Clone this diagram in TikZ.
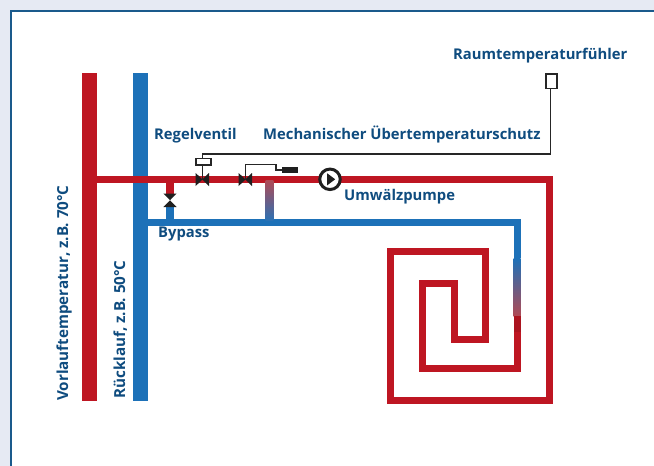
\documentclass[tikz,border=0pt]{standalone}
\usepackage{fontspec}
\setmainfont{Open Sans}
\definecolor{bgblue}{HTML}{E6EAF3}
\definecolor{framecol}{HTML}{1A5A8C}
\definecolor{pipered}{HTML}{BE1622}
\definecolor{pipeblue}{HTML}{1D71B8}
\definecolor{labelcol}{HTML}{0F4C7F}
\definecolor{ctrl}{HTML}{262626}
\definecolor{midmix}{HTML}{84709A}
\definecolor{lowmix}{HTML}{B04A55}
\tikzset{
  redpipe/.style={draw=pipered,line width=7pt,miter limit=10},
  bluepipe/.style={draw=pipeblue,line width=7pt},
  ctrlline/.style={draw=ctrl,line width=1.4pt},
  lab/.style={text=labelcol,font=\fontsize{14.8}{16}\selectfont\bfseries,inner sep=0pt},
  vlab/.style={text=labelcol,font=\fontsize{15.2}{16}\selectfont\bfseries,inner sep=0pt},
  valvetri/.style={fill=black!88,draw=none},
  smallbox/.style={draw=ctrl,line width=1.6pt,fill=white,inner sep=0pt}
}
\begin{document}
\begin{tikzpicture}[x=1pt,y=-1pt]
\useasboundingbox (0,0) rectangle (654,466);
\fill[bgblue] (0,0) rectangle (654,466);
\fill[white] (11,11) rectangle (654,466);
\draw[framecol,line width=2pt] (11,466) -- (11,11) -- (654,11);
% supply and return bars
\fill[pipered] (82,73) rectangle (97,401);
\fill[pipeblue] (133,73) rectangle (148,401);
% blue return run
\draw[bluepipe] (148,222.5) -- (517.2,222.5) -- (517.2,258);
\fill[pipeblue] (166,207) rectangle (174,219);
% red supply run and floor coil
\draw[redpipe] (97,179.5) -- (549.5,179.5) -- (549.5,400.5) -- (390.2,400.5) -- (390.2,251.5) -- (485.2,251.5) -- (485.2,339.5) -- (454.5,339.5) -- (454.5,283.5) -- (422.5,283.5) -- (422.5,368.5) -- (517.2,368.5) -- (517.2,316);
\fill[pipered] (166,183) rectangle (174,193.5);
% gradients
\shade[top color=pipeblue,middle color=midmix,bottom color=lowmix] (513.7,258) rectangle (520.7,316);
\fill[pipered!90!black] (513.7,316) rectangle (520.7,332);
\shade[top color=lowmix,bottom color=pipeblue!85!midmix] (265.7,180) rectangle (273.3,220);
% valve 1
\coordinate (v1) at (202.3,179.5);
\fill[valvetri] (195.7,173) -- (209,186) -- (209,173) -- (195.7,186) -- cycle;
% valve 2
\coordinate (v2) at (245.3,179.5);
\fill[valvetri] (238.7,173) -- (252,186) -- (252,173) -- (238.7,186) -- cycle;
% bypass valve
\fill[valvetri] (163.3,193.5) -- (176.7,193.5) -- (163.3,207) -- (176.7,207) -- cycle;
% control lines
\node[smallbox,minimum width=15pt,minimum height=6.6pt] (actuator) at (203.2,161.7) {};
\node[smallbox,minimum width=11pt,minimum height=14.6pt] (sensor) at (551.2,81) {};
\coordinate (sc) at (550.3,154);
\coordinate (ac) at (202.3,154);
\draw[ctrlline] (sensor.south -| sc) -- (sc) -- (ac) -- (ac |- actuator.north);
\draw[ctrlline] (ac |- actuator.south) -- (v1);
\node[fill=black!88,minimum width=15.5pt,minimum height=5.5pt,inner sep=0pt] (weight) at (290,170) {};
\draw[ctrlline] (v2) -- (245.3,164.7) -- (276,164.7) -- (276,170) -- (weight.west);
% pump
\node[circle,draw=black!88,line width=3pt,fill=white,minimum size=20.5pt,inner sep=0pt] (pump) at (330,179.3) {};
\fill[black!88] (327.2,173.3) -- (335.2,179.3) -- (327.2,185.3) -- cycle;
% labels
\node[lab,anchor=base west] (l1) at (453,59) {Raumtemperaturfühler};
\node[lab,anchor=base west] (l2) at (154,139) {Regelventil};
\node[lab,anchor=base west] (l3) at (263,139) {Mechanischer Übertemperaturschutz};
\node[lab,anchor=base west] (l4) at (344,200) {Umwälzpumpe};
\node[lab,anchor=base west] (l5) at (158,237) {Bypass};
\node[vlab,anchor=base west,rotate=90] (l6) at (68,401) {Vorlauftemperatur, z.B. 70°C};
\node[vlab,anchor=base west,rotate=90] (l7) at (125,399) {Rücklauf, z.B. 50°C};
\end{tikzpicture}
\end{document}
